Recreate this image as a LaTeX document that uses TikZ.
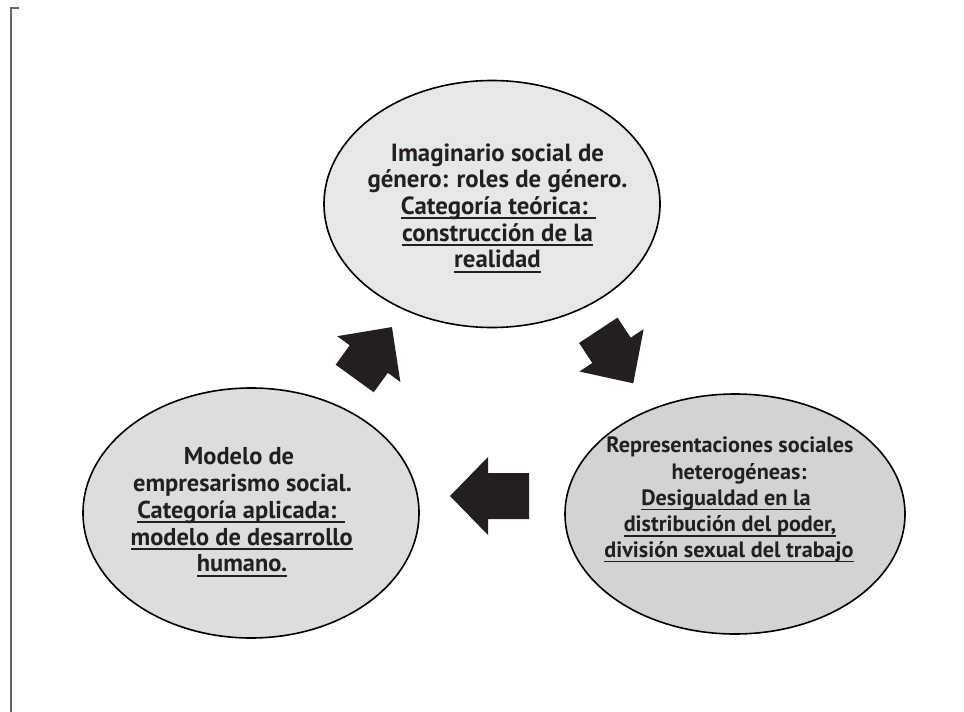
\documentclass[tikz,border=0pt]{standalone}
\usepackage{fontspec}
\setmainfont{PT Sans}
\definecolor{ink}{HTML}{231F20}
\definecolor{fillA}{HTML}{E6E7E8}
\definecolor{fillB}{HTML}{DCDDDE}
\definecolor{fillC}{HTML}{D1D3D4}
\definecolor{framecol}{HTML}{666666}
\newcommand\ulx[1]{\setbox0\hbox{#1}\rlap{\rule[-4.8pt]{\wd0}{1.8pt}}\box0}
\usetikzlibrary{shapes.geometric}
\tikzset{
  bubble/.style={ellipse, draw=black, line width=1.6pt, inner sep=0pt},
  txtA/.style={anchor=base, inner sep=0pt, text=ink, font=\bfseries\fontsize{24.8}{27}\selectfont},
  txtB/.style={anchor=base, inner sep=0pt, text=ink, font=\bfseries\fontsize{24.4}{27}\selectfont},
  txtC/.style={anchor=base, inner sep=0pt, text=ink, font=\bfseries\fontsize{22.2}{26}\selectfont},
  blockarrow/.style={fill=ink, draw=none},
  framerule/.style={draw=framecol, line width=1.5pt}
}
\begin{document}
\begin{tikzpicture}[x=1pt,y=-1pt]
\useasboundingbox (0,0) rectangle (964,712);
% frame
\coordinate (f1) at (19,8);
\coordinate (f2) at (11,8);
\coordinate (f3) at (11,712);
\draw[framerule] (f1) -- (f2) -- (f3);
% ellipses
\node[bubble, fill=fillA, minimum width=336pt, minimum height=247pt] (top) at (492,204) {};
\node[bubble, fill=fillB, minimum width=336pt, minimum height=250pt] (left) at (251,513) {};
\node[bubble, fill=fillC, minimum width=340pt, minimum height=240pt] (right) at (735,514) {};
% top text
\node[txtA] (a1) at (497.5,161) {Imaginario social de};
\node[txtA] (a2) at (497.5,187.7) {género: roles de género.};
\node[txtA] (a3) at (498.5,214.3) {\ulx{Categoría teórica: }};
\node[txtA] (a4) at (497.5,241) {\ulx{construcción de la}};
\node[txtA] (a5) at (497.5,267.7) {\ulx{realidad}};
% left text
\node[txtB] (b1) at (239,464) {Modelo de};
\node[txtB] (b2) at (242.5,491.7) {empresarismo social.};
\node[txtB] (b3) at (241,518.3) {\ulx{Categoría aplicada: }};
\node[txtB] (b4) at (241.7,545) {\ulx{modelo de desarrollo}};
\node[txtB] (b5) at (242,571.7) {\ulx{humano.}};
% right text
\node[txtC] (c1) at (730,452.5) {Representaciones sociales};
\node[txtC] (c2) at (739,479) {heterogéneas:};
\node[txtC] (c3) at (726,505.5) {\ulx{Desigualdad en la}};
\node[txtC] (c4) at (730,531.7) {\ulx{distribución del poder,}};
\node[txtC] (c5) at (729,557.5) {\ulx{división sexual del trabajo}};
% block arrows: tail centre, pointing direction
\begin{scope}[shift={(529,496)}, rotate=180]
  \fill[blockarrow] (0,-23) -- (41,-23) -- (41,-39) -- (79,0) -- (41,39) -- (41,23) -- (0,23) -- cycle;
\end{scope}
\begin{scope}[shift={(354.7,378.5)}, rotate=54.1]
  \fill[blockarrow] (0,-23.5) -- (24,-23.5) -- (24,-39) -- (63.5,0) -- (24,39) -- (24,23.5) -- (0,23.5) -- cycle;
\end{scope}
\begin{scope}[shift={(598.3,330.3)}, rotate=-56.6]
  \fill[blockarrow] (0,-23) -- (24,-23) -- (24,-38.5) -- (63.5,0) -- (24,38.5) -- (24,23) -- (0,23) -- cycle;
\end{scope}
\end{tikzpicture}
\end{document}
